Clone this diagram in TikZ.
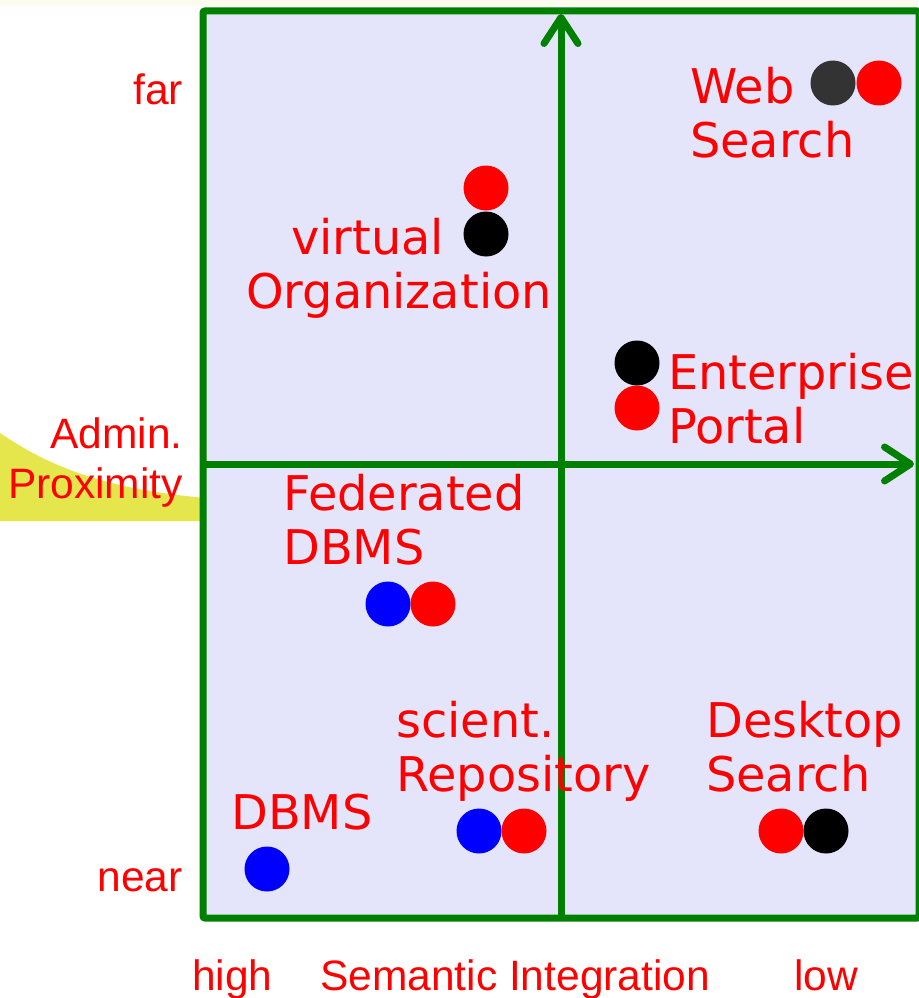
\documentclass[tikz,border=0pt]{standalone}
\usepackage{fontspec}
\usetikzlibrary{arrows.meta}
\newfontfamily\quadfont{DejaVu Sans}
\newfontfamily\axisfont{Liberation Sans}
\definecolor{axisgreen}{RGB}{0,128,0}
\definecolor{panelfill}{RGB}{228,228,250}
\definecolor{blob}{RGB}{229,229,76}
\definecolor{paper}{RGB}{252,252,238}
\definecolor{darkdot}{RGB}{51,51,51}
\tikzset{
  dot/.style={circle, inner sep=0pt, minimum size=45pt, draw=none},
  quadlabel/.style={anchor=base west, inner sep=0pt, align=left, text=red,
    font=\quadfont\fontsize{47.8}{54}\selectfont},
  axislabel/.style={inner sep=0pt, text=red,
    font=\axisfont\fontsize{42.5}{50}\selectfont},
  axisline/.style={draw=axisgreen, line width=7pt,
    -{Straight Barb[length=26pt, width=34pt, line cap=round, round]}},
}
\begin{document}
\begin{tikzpicture}[x=1pt, y=-1pt]
\useasboundingbox (0,0) rectangle (918,998);
\fill[white] (0,0) rectangle (918,998);
\fill[paper] (0,0) rectangle (918,6);

% yellow wedge behind the panel
\fill[blob] (0,433) .. controls (60,474) and (120,490) .. (205,498)
  -- (205,521) -- (0,521) -- cycle;

% the panel
\node[draw=axisgreen, fill=panelfill, line width=7pt, rounded corners=2pt,
  minimum width=716pt, minimum height=907pt, inner sep=0pt, outer sep=0pt,
  anchor=north west] (panel) at (203,11) {};

% axes
\coordinate (vbot) at (561,918);
\coordinate (vtop) at (561,14);
\coordinate (hleft) at (203,464);
\coordinate (hright) at (914,464);
\draw[axisline] (vbot) -- (vtop);
\draw[axisline] (hleft) -- (hright);

% axis labels
\node[axislabel, anchor=base east] (far) at (183,104) {far};
\node[axislabel, anchor=base east] (near) at (183,891) {near};
\node[axislabel, anchor=base east] (admin) at (183,448) {Admin.};
\node[axislabel, anchor=base east] (prox) at (183,498) {Proximity};
\node[axislabel, anchor=base west] (high) at (192,990) {high};
\node[axislabel, anchor=base west] (sem) at (320,990) {Semantic Integration};
\node[axislabel, anchor=base west] (low) at (794,990) {low};

% systems (a two-line label sits on the baseline of its second line)
\node[quadlabel] (web) at (690,157) {Web\\Search};
\node[dot, fill=darkdot] (web1) at (833,83) {};
\node[dot, fill=red] (web2) at (879,83) {};

\node[quadlabel] (vo) at (246,308) {\hspace*{45pt}virtual\\Organization};
\node[dot, fill=red] (vo1) at (486,188) {};
\node[dot, fill=black] (vo2) at (486,234) {};

\node[quadlabel] (ep) at (668,443) {Enterprise\\Portal};
\node[dot, fill=black] (ep1) at (637,363) {};
\node[dot, fill=red] (ep2) at (637,408) {};

\node[quadlabel] (fed) at (283,564) {Federated\\DBMS};
\node[dot, fill=blue] (fed1) at (388,604) {};
\node[dot, fill=red] (fed2) at (433,604) {};

\node[quadlabel] (sci) at (396,791) {scient.\\Repository};
\node[dot, fill=blue] (sci1) at (479,831) {};
\node[dot, fill=red] (sci2) at (524,831) {};

\node[quadlabel] (desk) at (706,791) {Desktop\\Search};
\node[dot, fill=red] (desk1) at (781,831) {};
\node[dot, fill=black] (desk2) at (826,831) {};

\node[quadlabel] (dbms) at (231,829) {DBMS};
\node[dot, fill=blue] (dbms1) at (267,869) {};
\end{tikzpicture}
\end{document}
